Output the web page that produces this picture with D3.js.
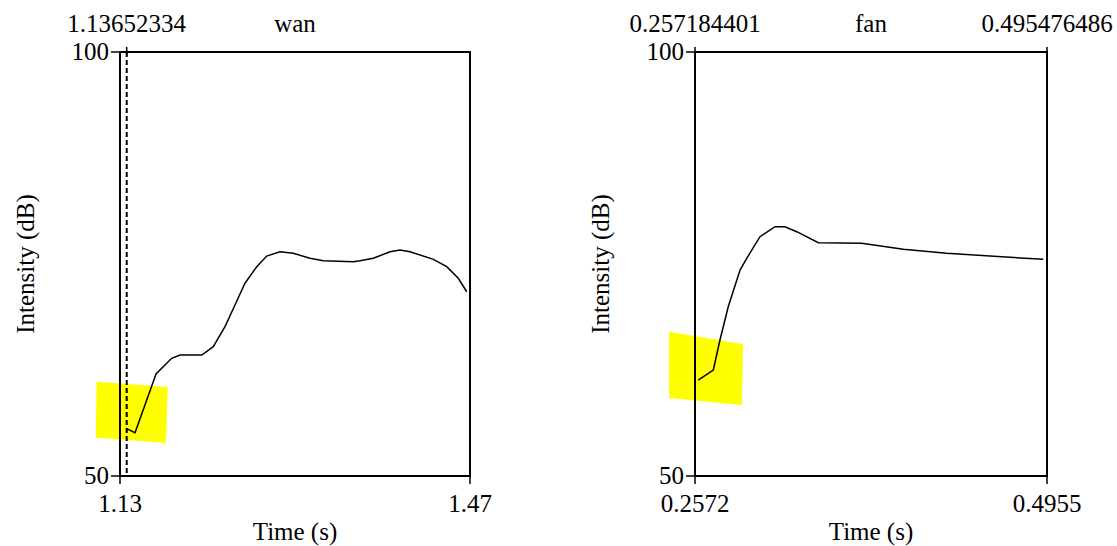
<!DOCTYPE html>
<html>
<head>
<meta charset="utf-8">
<script src="https://cdn.jsdelivr.net/npm/d3@7"></script>
<style>
  body { margin: 0; background: #fff; }
  svg text { font-family: "Liberation Serif", "Times New Roman", serif; fill: #000; }
</style>
</head>
<body>
<div id="chart"></div>
<script>
// wan: intensity contour
var wanTime = [1.1358, 1.1446, 1.1650, 1.1802, 1.1883, 1.2094, 1.2206, 1.2320, 1.2417, 1.2514,
               1.2628, 1.2725, 1.2854, 1.2984, 1.3146, 1.3275, 1.3566, 1.3631, 1.3761, 1.3923,
               1.4020, 1.4117, 1.4344, 1.4474, 1.4586, 1.4668];
var wanDb   = [55.62, 55.11, 62.03, 63.88, 64.27, 64.27, 65.25, 67.61, 70.17, 72.73,
               74.68, 75.94, 76.45, 76.26, 75.67, 75.39, 75.27, 75.39, 75.67, 76.45,
               76.65, 76.45, 75.55, 74.68, 73.31, 71.73];

// fan: intensity contour
var fanTime = [0.2594, 0.2696, 0.2741, 0.2797, 0.2877, 0.2922, 0.3012, 0.3114, 0.3181, 0.3261,
               0.3407, 0.3701, 0.3982, 0.4276, 0.4705, 0.4930];
var fanDb   = [61.32, 62.50, 66.04, 69.96, 74.29, 75.67, 78.22, 79.40, 79.40, 78.81,
               77.51, 77.44, 76.73, 76.26, 75.79, 75.55];

// hand drawn yellow highlight (data units)
var wanMarkT = [1.1083, 1.1754, 1.1737, 1.1074];
var wanMarkDb = [61.0, 60.38, 54.04, 54.63];
var fanMarkT = [0.2403, 0.2890, 0.2883, 0.2403];
var fanMarkDb = [66.86, 65.45, 58.49, 59.32];

var yDomain = [50, 100];

var panels = [
  { title: 'wan', left: 120, right: 470, domain: [1.13, 1.47], tickLabels: ['1.13', '1.47'],
    time: wanTime, db: wanDb, markT: wanMarkT, markDb: wanMarkDb,
    cursor: 1.13652334, cursorLabel: '1.13652334', rightLabel: null },
  { title: 'fan', left: 695, right: 1047, domain: [0.2572, 0.4955], tickLabels: ['0.2572', '0.4955'],
    time: fanTime, db: fanDb, markT: fanMarkT, markDb: fanMarkDb,
    cursor: null, cursorLabel: '0.257184401', rightLabel: '0.495476486' }
];

var W = 1117, H = 546;
var plotTop = 52, plotBottom = 476;
var fs = 25;

var svg = d3.select('#chart').append('svg')
    .attr('width', W)
    .attr('height', H);

var y = d3.scaleLinear().domain(yDomain).range([plotBottom, plotTop]);

panels.forEach(function(p) {
    var x = d3.scaleLinear().domain(p.domain).range([p.left, p.right]);
    var g = svg.append('g');

    // yellow marker
    var markPts = p.markT.map(function(t, i) { return [x(t), y(p.markDb[i])]; });
    g.append('polygon')
        .attr('points', markPts.map(function(d) { return d.join(','); }).join(' '))
        .attr('fill', '#ffff00')
        .attr('stroke', '#ffff00')
        .attr('stroke-width', 2)
        .attr('stroke-linejoin', 'round');

    // box
    g.append('rect')
        .attr('x', p.left).attr('y', plotTop)
        .attr('width', p.right - p.left).attr('height', plotBottom - plotTop)
        .attr('fill', 'none').attr('stroke', '#000').attr('stroke-width', 2);

    // y ticks
    yDomain.forEach(function(v) {
        g.append('line')
            .attr('x1', p.left - 9).attr('x2', p.left)
            .attr('y1', y(v)).attr('y2', y(v))
            .attr('stroke', '#000').attr('stroke-width', 1.5);
        g.append('text')
            .attr('x', p.left - 11).attr('y', y(v))
            .attr('dy', '0.33em')
            .attr('text-anchor', 'end')
            .style('font-size', fs + 'px')
            .text(v);
    });

    // x ticks
    p.domain.forEach(function(v, i) {
        g.append('line')
            .attr('x1', x(v)).attr('x2', x(v))
            .attr('y1', plotBottom).attr('y2', plotBottom + 8)
            .attr('stroke', '#000').attr('stroke-width', 1.5);
        g.append('text')
            .attr('x', x(v)).attr('y', plotBottom + 36)
            .attr('text-anchor', 'middle')
            .style('font-size', fs + 'px')
            .text(p.tickLabels[i]);
    });

    // axis titles
    g.append('text')
        .attr('x', (p.left + p.right) / 2).attr('y', plotBottom + 64)
        .attr('text-anchor', 'middle')
        .style('font-size', fs + 'px')
        .text('Time (s)');

    g.append('text')
        .attr('transform', 'translate(' + (p.left - 86) + ',' + ((plotTop + plotBottom) / 2) + ') rotate(-90)')
        .attr('text-anchor', 'middle')
        .style('font-size', fs + 'px')
        .text('Intensity (dB)');

    // top labels
    g.append('text')
        .attr('x', (p.left + p.right) / 2).attr('y', 32)
        .attr('text-anchor', 'middle')
        .style('font-size', fs + 'px')
        .text(p.title);

    var cx = p.cursor != null ? x(p.cursor) : p.left;
    g.append('text')
        .attr('x', cx).attr('y', 32)
        .attr('text-anchor', 'middle')
        .style('font-size', fs + 'px')
        .text(p.cursorLabel);
    g.append('line')
        .attr('x1', cx).attr('x2', cx)
        .attr('y1', plotTop - 5).attr('y2', plotTop + 4)
        .attr('stroke', '#000').attr('stroke-width', 1.5);

    if (p.rightLabel) {
        g.append('text')
            .attr('x', p.right).attr('y', 32)
            .attr('text-anchor', 'middle')
            .style('font-size', fs + 'px')
            .text(p.rightLabel);
        g.append('line')
            .attr('x1', p.right).attr('x2', p.right)
            .attr('y1', plotTop - 5).attr('y2', plotTop + 4)
            .attr('stroke', '#000').attr('stroke-width', 1.5);
    }

    // cursor
    if (p.cursor != null) {
        g.append('line')
            .attr('x1', x(p.cursor)).attr('x2', x(p.cursor))
            .attr('y1', plotTop).attr('y2', plotBottom)
            .attr('stroke', '#000').attr('stroke-width', 2)
            .attr('stroke-dasharray', '5,3');
    }

    // contour
    var line = d3.line()
        .x(function(d) { return x(d[0]); })
        .y(function(d) { return y(d[1]); });
    g.append('path')
        .datum(p.time.map(function(t, i) { return [t, p.db[i]]; }))
        .attr('d', line)
        .attr('fill', 'none')
        .attr('stroke', '#000')
        .attr('stroke-width', 1.5);
});
</script>
</body>
</html>
